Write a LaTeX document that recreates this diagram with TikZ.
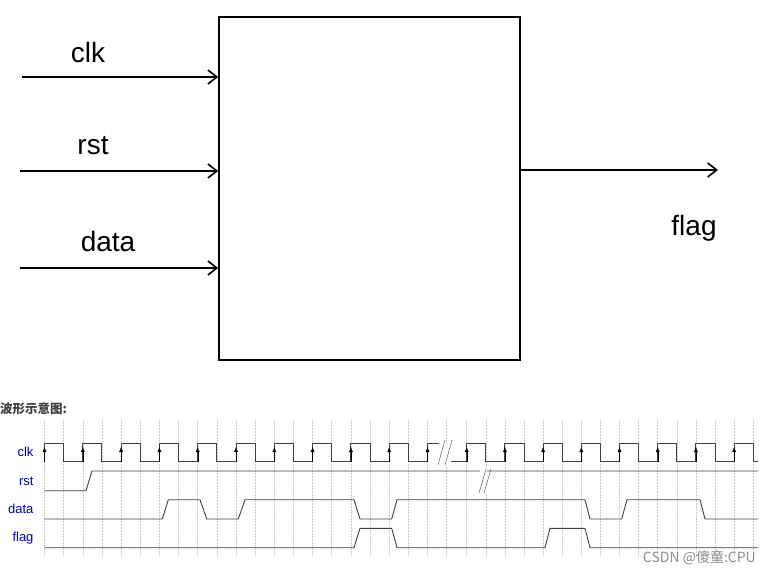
\documentclass[tikz,border=0pt]{standalone}
\usepackage{fontspec}
\setmainfont{Liberation Sans}
\newfontfamily\cjk{Noto Sans CJK SC}
\usetikzlibrary{arrows.meta}
\begin{document}
\begin{tikzpicture}[x=1pt,y=-1pt,
  sig/.style={line width=0.9pt,draw=black!75},
  grid/.style={densely dotted,draw=black!20,line width=0.5pt},
  lbl/.style={text=blue!70!black,font=\fontsize{13}{14}\selectfont,anchor=east},
  port/.style={line width=1.6pt,-{Straight Barb[length=9pt,width=14pt,line width=1.6pt]}},
  big/.style={font=\fontsize{28}{30}\selectfont}]
\useasboundingbox (0,0) rectangle (770,578);
% block
\node[draw,line width=1.6pt,minimum width=301pt,minimum height=343pt,inner sep=0pt] (box) at (369.5,188.5) {};
\coordinate (cin) at (22,77); \coordinate (rin) at (20,171); \coordinate (din) at (20,268);
\coordinate (fout) at (718,170);
\draw[port] (cin) -- (cin -| box.west);
\draw[port] (rin) -- (rin -| box.west);
\draw[port] (din) -- (din -| box.west);
\draw[port] (fout -| box.east) -- (fout);
\node[big] (lc) at (88,52) {clk};
\node[big] (lr) at (93,146) {rst};
\node[big] (ld) at (108,241) {data};
\node[big] (lf) at (694,228) {flag};
% waveform title
\node[anchor=west,text=black!75,font=\cjk\bfseries\fontsize{12.5}{13}\selectfont,inner sep=0pt] (title) at (0,409) {波形示意图:};
% grid
\foreach \i in {0,...,10}{
  \draw[grid] ({44.5+38.3*\i},420) -- ({44.5+38.3*\i},556);
  \draw[grid] ({63.6+38.3*\i},420) -- ({63.6+38.3*\i},556);}
\foreach \i in {0,...,7}{
  \draw[grid] ({466.7+38.2*\i},420) -- ({466.7+38.2*\i},556);
  \draw[grid] ({485.8+38.2*\i},420) -- ({485.8+38.2*\i},556);}
% labels
\node[lbl] (lclk) at (37,452) {clk};
\node[lbl] (lrst) at (37,481) {rst};
\node[lbl] (ldat) at (37,509) {data};
\node[lbl] (lflg) at (37,538) {flag};
% clk
\def\hi{443.3}\def\lo{461.7}
\foreach \i in {0,...,10}{
  \pgfmathsetmacro\r{44.5+38.3*\i}
  \ifnum\i<10
    \draw[sig] (\r,\lo) -- (\r,\hi) -- (\r+19.1,\hi) -- (\r+19.1,\lo) -- (\r+38.3,\lo);
  \else
    \draw[sig] (\r,\lo) -- (\r,\hi) -- (445,\hi);
  \fi
  \draw[-{Latex[length=5pt,width=4pt]},black] (\r,\lo) -- (\r,447);}
\draw[sig] (445,\hi) -- (445,\lo);
\draw[sig] (445,\lo) -- (466.7,\lo);
\foreach \i in {0,...,7}{
  \pgfmathsetmacro\r{466.7+38.2*\i}
  \ifnum\i<7
    \draw[sig] (\r,\lo) -- (\r,\hi) -- (\r+19.1,\hi) -- (\r+19.1,\lo) -- (\r+38.2,\lo);
  \else
    \draw[sig] (\r,\lo) -- (\r,\hi) -- (\r+19.1,\hi) -- (\r+19.1,\lo) -- (758,\lo);
  \fi
  \draw[-{Latex[length=5pt,width=4pt]},black] (\r,\lo) -- (\r,447);}
\fill[white] (438,440) -- (445,440) -- (452,465) -- (445,465) -- cycle;
\draw[black!75] (438,465) -- (445,440) (445,465) -- (452,440);
% rst
\draw[sig] (44.5,490.7) -- (86,490.7) -- (92,471) -- (758,471);
\fill[white] (480,469) -- (487,469) -- (489,493) -- (482,493) -- cycle;
\draw[black!75] (479,493) -- (486,469) (484,493) -- (491,469);
% data
\draw[sig] (44.5,519) -- (162.3,519) -- (168.3,499.7) -- (200,499.7) -- (206.7,519) -- (238.3,519) -- (245,499.7) -- (354,499.7) -- (360,519) -- (391.7,519) -- (397,499.7) -- (585,499.7) -- (590,519) -- (621.7,519) -- (627,499.7) -- (700,499.7) -- (705,519) -- (758,519);
% flag
\draw[sig] (44.5,547.7) -- (354,547.7) -- (360,528.3) -- (391.7,528.3) -- (397,547.7) -- (545,547.7) -- (550,528.3) -- (585,528.3) -- (590,547.7) -- (758,547.7);
% watermark
\node[anchor=east,text=black!45,font=\cjk\fontsize{14}{16}\selectfont,inner sep=0pt] (wm) at (756,558) {CSDN @傻童:CPU};
\end{tikzpicture}
\end{document}
